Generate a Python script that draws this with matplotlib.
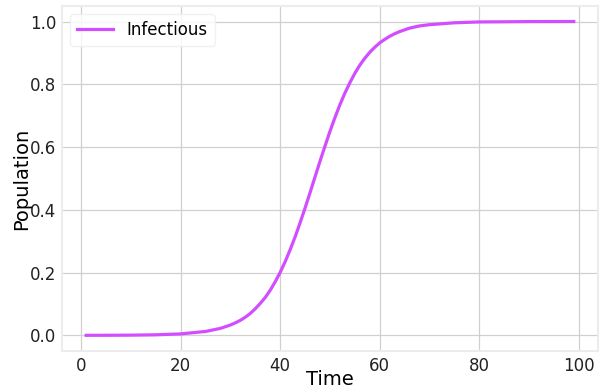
import matplotlib
matplotlib.use('Agg')
import matplotlib.pyplot as plt

# values
time = [1, 5, 10, 15, 20, 25, 28, 30, 31, 32, 33, 34, 35, 36, 37, 38, 39, 40,
        41, 42, 43, 44, 45, 46, 47, 48, 49, 50, 51, 52, 53, 54, 55, 56, 57,
        58, 59, 60, 61, 62, 63, 64, 66, 68, 70, 75, 80, 90, 99]
infectious = [0.0001, 0.0002, 0.0006, 0.0017, 0.0046, 0.0124, 0.0223, 0.033,
              0.040, 0.048, 0.058, 0.070, 0.085, 0.102, 0.121, 0.144, 0.171,
              0.201, 0.235, 0.273, 0.314, 0.359, 0.406, 0.455, 0.505, 0.555,
              0.603, 0.650, 0.694, 0.735, 0.772, 0.805, 0.835, 0.861, 0.883,
              0.902, 0.918, 0.932, 0.943, 0.953, 0.961, 0.968, 0.979, 0.986,
              0.990, 0.996, 0.9987, 0.9998, 1.0]

fig = plt.figure(figsize=(6.06, 3.9), dpi=100)
ax = fig.add_axes([0.102, 0.1, 0.885, 0.885])
ax.plot(time, infectious, color='#d24dff', lw=2.3, label='Infectious')

ax.grid(True, color='#d0d0d0', lw=0.9)
for s in ax.spines.values():
    s.set_color('#ececec')
    s.set_linewidth(1.5)
ax.tick_params(length=0, labelsize=12, colors='#222222', pad=4)
ax.set_xticks([0, 20, 40, 60, 80, 100])
ax.set_yticks([0.0, 0.2, 0.4, 0.6, 0.8, 1.0])
ax.set_xlabel('Time', fontsize=14, labelpad=-3)
ax.set_ylabel('Population', fontsize=14, labelpad=-1)
ax.legend(loc='upper left', fontsize=12, frameon=True, framealpha=0.8,
          edgecolor='#eeeeee', handlelength=2.2)

fig.savefig('out.png', dpi=100)
